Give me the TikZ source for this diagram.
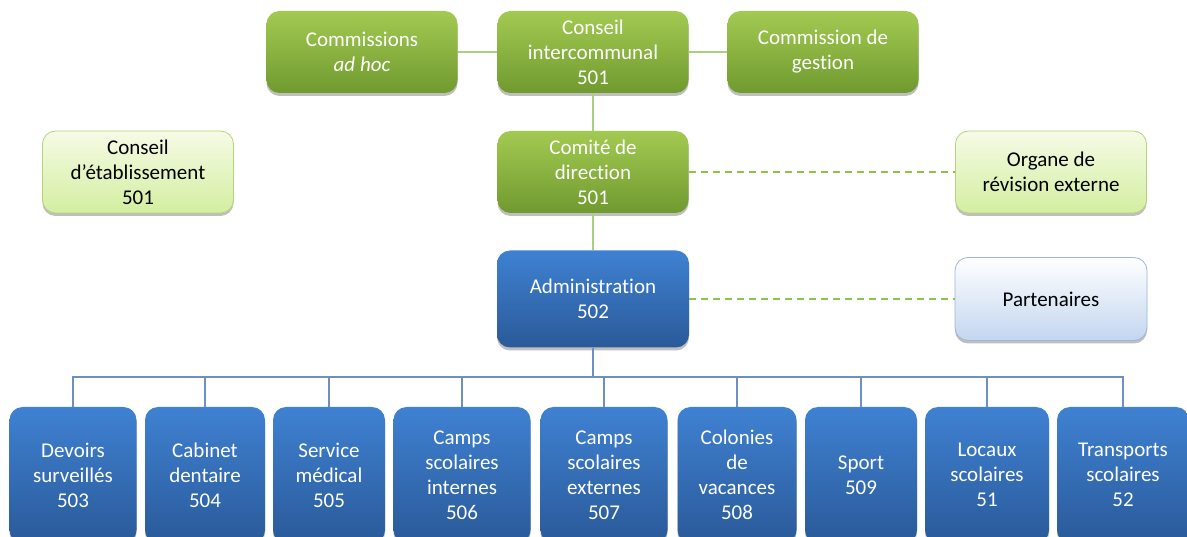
\documentclass[tikz,border=0pt]{standalone}
\usepackage{fontspec}
\setmainfont[Ligatures={NoCommon}]{Carlito}
\usetikzlibrary{shadows}
\definecolor{boardtop}{HTML}{A2CA52}
\definecolor{boardbot}{HTML}{709A2F}
\definecolor{paletop}{HTML}{F6FBE6}
\definecolor{palebot}{HTML}{D3EEA0}
\definecolor{paleedge}{HTML}{B4D47C}
\definecolor{officetop}{HTML}{3F81D2}
\definecolor{officebot}{HTML}{2A5A99}
\definecolor{partnertop}{HTML}{FFFFFF}
\definecolor{partnerbot}{HTML}{C3D6EF}
\definecolor{partneredge}{HTML}{9DB7DD}
\definecolor{greenline}{HTML}{A9CF82}
\definecolor{greendash}{HTML}{8CC34B}
\definecolor{blueline}{HTML}{6D8FC1}
\tikzstyle{unit}=[rectangle, rounded corners=13pt, align=center, inner sep=0pt,
    font=\fontsize{21}{25}\selectfont,
    drop shadow={shadow xshift=0pt, shadow yshift=-3pt, opacity=0.25, fill=black}]
\tikzstyle{board}=[unit, top color=boardtop, bottom color=boardbot, text=white,
    minimum width=191pt, minimum height=82pt]
\tikzstyle{outside}=[unit, top color=paletop, bottom color=palebot, draw=paleedge,
    line width=0.8pt, text=black, minimum width=191pt, minimum height=82pt]
\tikzstyle{office}=[unit, top color=officetop, bottom color=officebot, text=white,
    minimum height=136pt]
\tikzstyle{partner}=[unit, top color=partnertop, bottom color=partnerbot, draw=partneredge,
    line width=0.8pt, text=black, minimum width=192pt, minimum height=83pt]
\tikzstyle{link}=[greenline, line width=1.3pt]
\tikzstyle{looselink}=[greendash, line width=2pt, dash pattern=on 7pt off 5pt]
\tikzstyle{branch}=[blueline, line width=1.3pt]

\begin{document}
\begin{tikzpicture}[x = 1pt, y = -1pt]
    \useasboundingbox (0,0) rectangle (1187,537);
    \clip (0,0) rectangle (1187,537);
% Councils
    \node[board] (adhoc) at (362,52) {Commissions\\\textit{ad hoc}};
    \node[board] (council) at (593,52) {Conseil\\intercommunal\\501};
    \node[board] (gestion) at (823,52) {Commission de\\gestion};
    \node[board] (direction) at (593,172) {Comité de\\direction\\501};
    \node[outside] (etab) at (138,172) {Conseil\\d’établissement\\501};
    \node[outside] (revision) at (1051,172) {Organe de\\révision externe};
% Administration
    \node[unit, top color=officetop, bottom color=officebot, text=white,
        minimum width=192pt, minimum height=97pt] (admin) at (593,299) {Administration\\502};
    \node[partner] (partners) at (1051,299) {Partenaires};
% Services
    \node[office, minimum width=127pt] (s503) at (73,475) {Devoirs\\surveillés\\503};
    \node[office, minimum width=120pt] (s504) at (205,475) {Cabinet\\dentaire\\504};
    \node[office, minimum width=112pt] (s505) at (329,475) {Service\\médical\\505};
    \node[office, minimum width=137pt] (s506) at (462,475) {Camps\\scolaires\\internes\\506};
    \node[office, minimum width=127pt] (s507) at (604,475) {Camps\\scolaires\\externes\\507};
    \node[office, minimum width=119pt] (s508) at (737,475) {Colonies\\de\\vacances\\508};
    \node[office, minimum width=112pt] (s509) at (861,475) {Sport\\509};
    \node[office, minimum width=124pt] (s51) at (987,475) {Locaux\\scolaires\\51};
    \node[office, minimum width=132pt] (s52) at (1123,475) {Transports\\scolaires\\52};
% Links
    \draw[link] (adhoc) -- (council);
    \draw[link] (council) -- (gestion);
    \draw[link] (council) -- (direction);
    \draw[link] (direction) -- (admin);
    \draw[looselink] (direction) -- (revision);
    \draw[looselink] (admin) -- (partners);
% Tree of services
    \coordinate (bus) at (593,377);
    \draw[branch] (admin.south) -- (bus);
    \foreach \s in {s503,s504,s505,s506,s507,s508,s509,s51,s52}
        \draw[branch] (bus) -| (\s.north);
\end{tikzpicture}
\end{document}
